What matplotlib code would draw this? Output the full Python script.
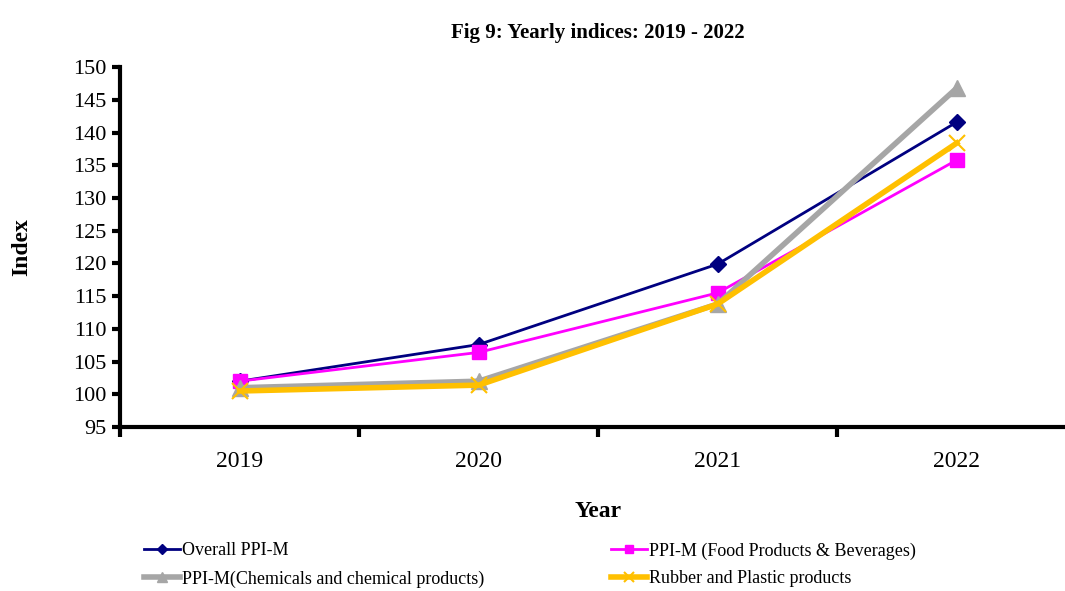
import matplotlib.pyplot as plt
import numpy as np

plt.rcParams['font.family'] = ['Liberation Serif', 'DejaVu Serif']

years = ['2019', '2020', '2021', '2022']
overall = [102.0, 107.6, 119.9, 141.6]
food = [102.0, 106.4, 115.5, 135.8]
chem = [101.0, 102.0, 113.8, 146.8]
rubber = [100.5, 101.4, 113.8, 138.4]

fig = plt.figure(figsize=(10.65, 5.91), dpi=100)
ax = fig.add_axes([0.1127, 0.2775, 0.898, 0.609])

x = np.arange(len(years))
l1, = ax.plot(x, overall, color='#000080', lw=2, marker='D', ms=8, label='Overall PPI-M')
l2, = ax.plot(x, food, color='#FF00FF', lw=2, marker='s', ms=10, label='PPI-M (Food Products & Beverages)')
l3, = ax.plot(x, chem, color='#A6A6A6', lw=4, marker='^', ms=12, label='PPI-M(Chemicals and chemical products)')
l4, = ax.plot(x, rubber, color='#FFC000', lw=4, marker='x', ms=12, mew=1.5, label='Rubber and Plastic products')

ax.set_xlim(-0.5, 3.5)
ax.set_ylim(95, 150)
ax.set_yticks(np.arange(95, 151, 5))
ax.set_xticks(x)
ax.set_xticklabels(years)
ax.set_xticks(np.arange(-0.5, 4, 1), minor=True)
ax.tick_params(axis='x', which='major', length=0, labelsize=17, pad=17)
ax.tick_params(axis='x', which='minor', length=7, width=3, direction='out')
ax.tick_params(axis='y', length=6, width=3, direction='out', labelsize=16, pad=4)

for s in ['top', 'right']:
    ax.spines[s].set_visible(False)
ax.spines['left'].set_linewidth(3)
ax.spines['bottom'].set_linewidth(3)

ax.set_title('Fig 9: Yearly indices: 2019 - 2022', fontsize=15, fontweight='bold', pad=21)
ax.set_ylabel('Index', fontsize=17, fontweight='bold', labelpad=29)
ax.set_xlabel('Year', fontsize=17, fontweight='bold', labelpad=21)

# order so rows read: Overall, Food / Chem, Rubber
fig.legend([l1, l3, l2, l4], [l1.get_label(), l3.get_label(), l2.get_label(), l4.get_label()],
           loc='upper left', bbox_to_anchor=(0.12, 0.11), ncol=2, frameon=False,
           fontsize=13, handlelength=2.0, handletextpad=0.1, columnspacing=7.0,
           labelspacing=0.6, markerscale=0.6)

fig.savefig('out.png', dpi=100)
